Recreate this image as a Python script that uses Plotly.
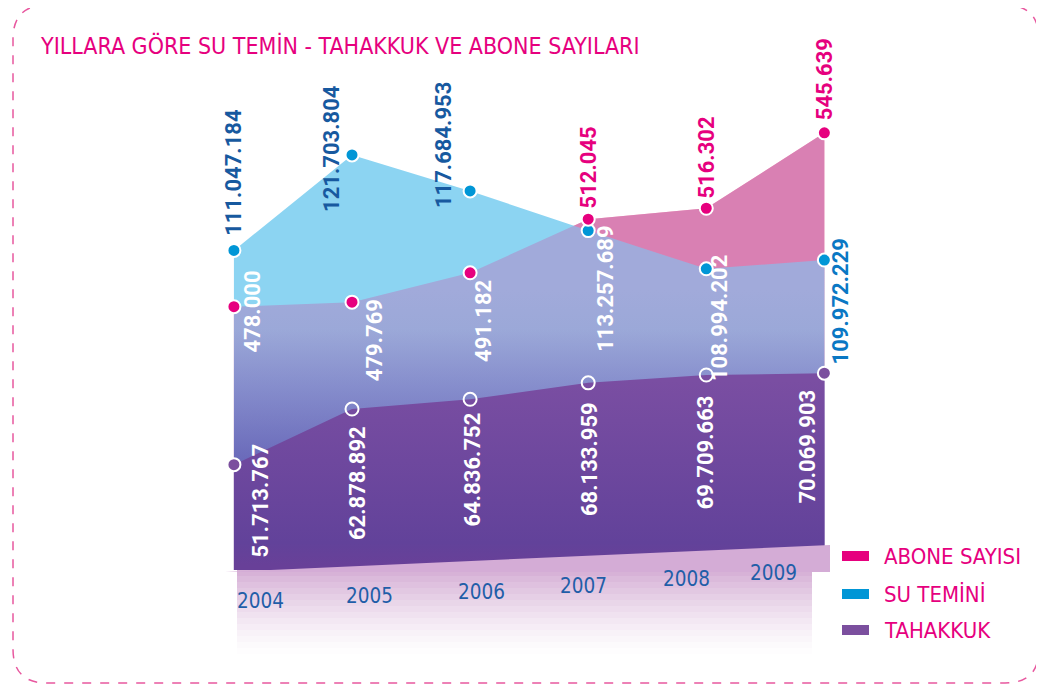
import plotly.graph_objects as go

# ---------------- data ----------------
years = [2004, 2005, 2006, 2007, 2008, 2009]
abone_sayisi = [478000, 479769, 491182, 512045, 516302, 545639]
su_temini = [111047184, 121703804, 117684953, 113257689, 108994202, 109972229]
tahakkuk = [51713767, 62878892, 64836752, 68133959, 69709663, 70069903]
series_names = ["ABONE SAYISI", "SU TEMİNİ", "TAHAKKUK"]
title_text = "YILLARA GÖRE SU TEMİN - TAHAKKUK VE ABONE SAYILARI"
year_labels = [str(y) for y in years]


def tr_fmt(v):
    return f"{v:,}".replace(",", ".")


# ---------------- layout constants (page pixels; page has an 8px body margin) ----------------
W, H = 1044, 686
L, R, T, B = 92, 108, 52, 124
PW, PH = W - L - R, H - T - B
OFF = 8
BOTTOM_PAGE = T + PH + OFF   # 570 in page pixels
LEFT_PAGE = L + OFF          # 100 in page pixels

X_RANGE = [2002.866, 2010.013]
ABONE_RANGE = [375540, 573990]
SU_RANGE = [75.38e6, 132.30e6]
TAH_RANGE = [30.57e6, 132.94e6]


def val_at_px(rng, py):
    return rng[0] + (BOTTOM_PAGE - py) / PH * (rng[1] - rng[0])


def pxx(px):
    return (px - LEFT_PAGE) / PW


def pxy(py):
    return (BOTTOM_PAGE - py) / PH


PINK = "#e6007e"
BLUE = "#0096d6"
PURPLE = "#7b4f9e"
SU_DARK = "#17599f"
SU_BRIGHT = "#0a78c4"
YEAR_BLUE = "#1f5ea8"
NARROW = "Liberation Sans Narrow, DejaVu Sans Condensed, Arial Narrow, Roboto, sans-serif"
LABEL_FONT = "Roboto, DejaVu Sans, sans-serif"

fig = go.Figure()

# 1. Abone area base (pink, opaque)
fig.add_trace(go.Scatter(
    x=years, y=abone_sayisi, yaxis="y", mode="lines", line=dict(width=0),
    fill="tozeroy", fillcolor="rgb(252,128,164)",
    showlegend=False, hoverinfo="skip"))

# 2. Su temini area (opaque cyan, darkening downwards)
fig.add_trace(go.Scatter(
    x=years, y=su_temini, yaxis="y2", mode="lines", line=dict(width=0),
    fill="tozeroy",
    fillgradient=dict(type="vertical",
                      start=val_at_px(SU_RANGE, 465), stop=val_at_px(SU_RANGE, 330),
                      colorscale=[[0, "rgb(78,96,192)"], [0.55, "rgb(112,160,222)"],
                                  [1, "rgb(140,212,242)"]]),
    showlegend=False, hoverinfo="skip"))

# 3. Abone overlay (translucent violet-pink)
fig.add_trace(go.Scatter(
    x=years, y=abone_sayisi, yaxis="y3", mode="lines", line=dict(width=0),
    fill="tozeroy",
    fillgradient=dict(type="vertical",
                      start=val_at_px(ABONE_RANGE, 460), stop=val_at_px(ABONE_RANGE, 290),
                      colorscale=[[0, "rgba(132,112,178,0.5)"], [1, "rgba(182,128,194,0.5)"]]),
    showlegend=False, hoverinfo="skip"))

# 4. Tahakkuk area + markers
tah_marker_colors = [PURPLE, "rgba(0,0,0,0)", "rgba(0,0,0,0)", "rgba(0,0,0,0)", "rgba(0,0,0,0)", PURPLE]
fig.add_trace(go.Scatter(
    x=years, y=tahakkuk, yaxis="y4", mode="lines+markers", line=dict(width=0),
    fill="tozeroy",
    fillgradient=dict(type="vertical",
                      start=val_at_px(TAH_RANGE, 565), stop=val_at_px(TAH_RANGE, 380),
                      colorscale=[[0, "rgb(104,64,152)"], [0.12, "rgb(98,66,154)"],
                                  [1, "rgb(122,78,162)"]]),
    marker=dict(size=13, color=tah_marker_colors, line=dict(color="white", width=2)),
    showlegend=False, hoverinfo="skip"))

# 5. Su markers
fig.add_trace(go.Scatter(
    x=years, y=su_temini, yaxis="y5", mode="markers",
    marker=dict(size=13, color=BLUE, line=dict(color="white", width=2)),
    showlegend=False, hoverinfo="skip"))

# 6. Abone markers
fig.add_trace(go.Scatter(
    x=years, y=abone_sayisi, yaxis="y6", mode="markers",
    marker=dict(size=13, color=PINK, line=dict(color="white", width=2)),
    showlegend=False, hoverinfo="skip"))

annotations = []

# value labels (rotated)
su_style = [("bottom", 0, 13, SU_DARK), ("middle", -20, 6, SU_DARK), ("bottom", -26, -19, SU_DARK),
            ("top", 17, 7, "white"), ("top", 14, 16, "white"), ("top", 16, 24, SU_BRIGHT)]
abone_style = [("middle", 19, -5, "white"), ("top", 22, 5, "white"), ("top", 14, -5, "white"),
               ("bottom", 0, 9, PINK), ("bottom", 0, 8, PINK), ("bottom", 0, 11, PINK)]
tah_style = [("top", 27, 23, "white"), ("top", 5, -15, "white"), ("top", 2, -11, "white"),
             ("top", 2, -17, "white"), ("top", -1, -18, "white"), ("top", -17, -14, "white")]

for vals, yref, styles in [(su_temini, "y5", su_style), (abone_sayisi, "y6", abone_style),
                           (tahakkuk, "y4", tah_style)]:
    for yr, v, (ya, xs, ys, col) in zip(years, vals, styles):
        annotations.append(dict(
            x=yr, y=v, xref="x", yref=yref, text=tr_fmt(v), showarrow=False,
            textangle=-90, xanchor="center", yanchor=ya, xshift=xs, yshift=ys,
            font=dict(family=LABEL_FONT, size=22, color=col, weight="bold")))

# year labels
year_xshift = [27, 17, 11, -5, -20, -51]
year_yshift = [-31, -26, -22, -16, -9, -3]
for yr, lab, xs, ys in zip(years, year_labels, year_xshift, year_yshift):
    annotations.append(dict(
        x=yr, y=0, xref="x", yref="paper", text=lab, showarrow=False,
        xanchor="center", yanchor="middle", xshift=xs, yshift=ys,
        font=dict(family=NARROW, size=20.5, color=YEAR_BLUE)))

# title
annotations.append(dict(
    x=pxx(38), y=pxy(45), xref="paper", yref="paper", text=title_text, showarrow=False,
    xanchor="left", yanchor="middle", font=dict(family=NARROW, size=23, color=PINK)))

# legend
legend_colors = [PINK, BLUE, PURPLE]
legend_y = [556, 594, 630]
shapes = []
for name, col, ly in zip(series_names, legend_colors, legend_y):
    shapes.append(dict(type="rect", xref="paper", yref="paper",
                       x0=pxx(842), x1=pxx(869), y0=pxy(ly - 5), y1=pxy(ly + 5),
                       fillcolor=col, line=dict(width=0)))
    annotations.append(dict(x=pxx(882), y=pxy(ly), xref="paper", yref="paper", text=name,
                            showarrow=False, xanchor="left", yanchor="middle",
                            font=dict(family=NARROW, size=22, color=PINK)))

# slanted bottom edge + reflection
shapes.append(dict(type="path", xref="paper", yref="paper", layer="above",
                   path=f"M {pxx(225)},{pxy(572)} L {pxx(830)},{pxy(545)} L {pxx(830)},{pxy(572)} Z",
                   fillcolor="rgb(212,172,214)", line=dict(width=0)))
n_bands = 14
for i in range(n_bands):
    y0 = 570 + i * 6
    a = 0.85 * (1 - i / n_bands) ** 1.4
    shapes.append(dict(type="rect", xref="paper", yref="paper", layer="below",
                       x0=pxx(237), x1=pxx(812), y0=pxy(y0), y1=pxy(y0 + 6),
                       fillcolor=f"rgba(208,165,208,{a:.3f})", line=dict(width=0)))

# dashed rounded border
x0, x1, y0, y1, r = 13, 1039, 5, 683, 34
rx = r / PW
ry = r / PH
X0, X1, Y0, Y1 = pxx(x0), pxx(x1), pxy(y0), pxy(y1)
border = (f"M {X0 + rx},{Y0} L {X1 - rx},{Y0} Q {X1},{Y0} {X1},{Y0 - ry} "
          f"L {X1},{Y1 + ry} Q {X1},{Y1} {X1 - rx},{Y1} L {X0 + rx},{Y1} "
          f"Q {X0},{Y1} {X0},{Y1 + ry} L {X0},{Y0 - ry} Q {X0},{Y0} {X0 + rx},{Y0} Z")
shapes.append(dict(type="path", xref="paper", yref="paper", path=border,
                   line=dict(color="#e8589f", width=1.5, dash="dash")))

fig.update_layout(
    width=W, height=H, autosize=False,
    margin=dict(l=L, r=R, t=T, b=B, pad=0),
    paper_bgcolor="white", plot_bgcolor="rgba(0,0,0,0)",
    xaxis=dict(range=X_RANGE, visible=False, fixedrange=True),
    yaxis=dict(range=ABONE_RANGE, visible=False),
    yaxis2=dict(range=SU_RANGE, visible=False, overlaying="y"),
    yaxis3=dict(range=ABONE_RANGE, visible=False, overlaying="y"),
    yaxis4=dict(range=TAH_RANGE, visible=False, overlaying="y"),
    yaxis5=dict(range=SU_RANGE, visible=False, overlaying="y"),
    yaxis6=dict(range=ABONE_RANGE, visible=False, overlaying="y"),
    annotations=annotations, shapes=shapes, showlegend=False,
)

fig.write_html("out.html")
